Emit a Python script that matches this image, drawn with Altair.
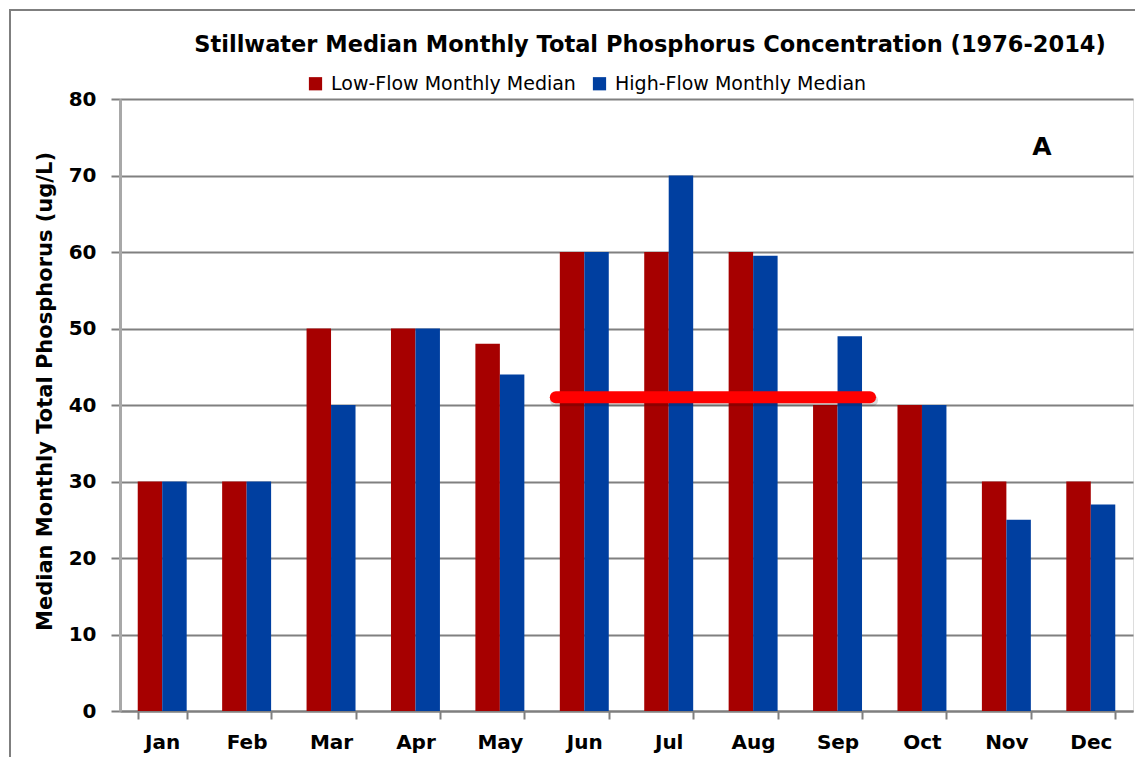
import altair as alt
import pandas as pd

months = ["Jan", "Feb", "Mar", "Apr", "May", "Jun", "Jul", "Aug", "Sep", "Oct", "Nov", "Dec"]
low_flow = [30, 30, 50, 50, 48, 60, 60, 60, 40, 40, 30, 30]
high_flow = [30, 30, 40, 50, 44, 60, 70, 59.5, 49, 40, 25, 27]
series_names = ["Low-Flow Monthly Median", "High-Flow Monthly Median"]
series_colors = ["#a60000", "#003fa0"]
target_value = 41
target_start = "Jun"
target_end = "Sep"
y_ticks = [0, 10, 20, 30, 40, 50, 60, 70, 80]
chart_title = "Stillwater  Median Monthly Total Phosphorus Concentration (1976-2014)"
y_title = "Median Monthly Total Phosphorus (ug/L)"
panel_label = "A"

rows = []
for m, lo, hi in zip(months, low_flow, high_flow):
    rows.append({"month": m, "series": series_names[0], "value": lo})
    rows.append({"month": m, "series": series_names[1], "value": hi})
df = pd.DataFrame(rows)
single = alt.Data(values=[{"k": 1}])

FONT = "DejaVu Sans"
W, H = 1013, 612

x_enc = alt.X("month:N", sort=months,
              scale=alt.Scale(paddingInner=0.42, paddingOuter=0.21),
              axis=alt.Axis(title=None, labelAngle=0, labelFont=FONT, labelFontSize=20,
                            labelFontWeight="bold", labelColor="#000", labelPadding=13,
                            tickBand="extent", tickSize=8, tickColor="#7f7f7f", tickWidth=2,
                            domainColor="#7f7f7f", domainWidth=2, grid=False))

bars = alt.Chart(df).mark_bar().encode(
    x=x_enc,
    xOffset=alt.XOffset("series:N", sort=series_names, scale=alt.Scale(paddingInner=0, paddingOuter=0)),
    y=alt.Y("value:Q", scale=alt.Scale(domain=[0, 80], nice=False),
            axis=alt.Axis(title=y_title, values=y_ticks,
                          titleFont=FONT, titleFontSize=21, titleFontWeight="bold", titleColor="#000",
                          titlePadding=13, titleY=292,
                          labelFont=FONT, labelFontSize=20, labelFontWeight="bold", labelColor="#000",
                          labelPadding=15, tickSize=9, tickColor="#7f7f7f", tickWidth=2,
                          domainColor="#a8a8a8", domainWidth=3,
                          grid=True, gridColor="#808080", gridWidth=2)),
    color=alt.Color("series:N", sort=series_names,
                    scale=alt.Scale(domain=series_names, range=series_colors),
                    legend=alt.Legend(title=None, orient="none", legendX=186, legendY=-25,
                                      direction="horizontal", symbolType="square", symbolSize=175,
                                      symbolStrokeWidth=0, labelFont=FONT, labelFontSize=19,
                                      labelColor="#000", labelLimit=0, columnPadding=14,
                                      labelOffset=6)),
)

shadow = alt.Chart(single).mark_rule(color="#000000", opacity=0.15, strokeWidth=12, strokeCap="round",
                                     xOffset=-4, x2Offset=10).encode(
    x=alt.datum(target_start, bandPosition=0),
    x2=alt.datum(target_end, bandPosition=1),
    y=alt.datum(target_value),
    yOffset=alt.value(3),
)

red_line = alt.Chart(single).mark_rule(color="#ff0000", strokeWidth=12, strokeCap="round",
                                       xOffset=-4, x2Offset=8).encode(
    x=alt.datum(target_start, bandPosition=0),
    x2=alt.datum(target_end, bandPosition=1),
    y=alt.datum(target_value),
)

label_a = alt.Chart(single).mark_text(text=panel_label, font=FONT, fontSize=25, fontWeight="bold",
                                      color="#000", align="center", baseline="middle").encode(
    x=alt.value(922), y=alt.value(48)
)

title_text = alt.Chart(single).mark_text(text=chart_title, font=FONT, fontSize=22.5, fontWeight="bold",
                                         color="#000", align="center", baseline="alphabetic").encode(
    x=alt.value(530), y=alt.value(-47)
)

frame = alt.Chart(single).mark_rect(fill=None, stroke="#7f7f7f", strokeWidth=2).encode(
    x=alt.value(-110), x2=alt.value(W + 6), y=alt.value(-89), y2=alt.value(H + 80)
)

chart = alt.layer(frame, bars, shadow, red_line, label_a, title_text).properties(
    width=W, height=H,
    autosize=alt.AutoSizeParams(type="none"),
    padding={"left": 112, "top": 91, "right": 2, "bottom": 46},
).configure_view(stroke=None).configure(background="#ffffff")

chart.save("out.html", embed_options={"renderer": "svg", "actions": False})
